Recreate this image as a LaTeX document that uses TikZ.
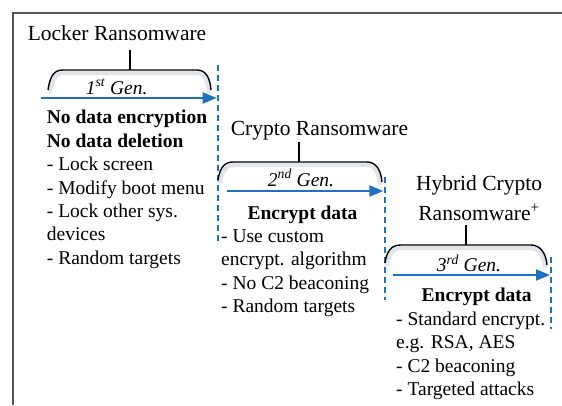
\documentclass[tikz,border=0pt]{standalone}
\usepackage{fontspec}
\setmainfont{Liberation Serif}
\usetikzlibrary{arrows.meta}
\definecolor{genblue}{RGB}{30,112,192}
\definecolor{framegray}{RGB}{85,85,85}
\definecolor{glowgray}{RGB}{205,212,222}
\begin{document}
\begin{tikzpicture}[x=1pt,y=-1pt,
  frame/.style={draw=framegray,line width=1.7pt},
  era/.style={draw=black,line width=1.4pt},
  eraglow/.style={draw=glowgray,line width=4pt,opacity=0.6,yshift=-3pt},
  timeline/.style={draw=genblue,line width=2pt,-{Triangle[length=14pt,width=11pt]}},
  divider/.style={draw=genblue,line width=2pt,dash pattern=on 6pt off 4pt},
  title/.style={font=\fontsize{21.5}{30}\selectfont,inner sep=0pt,anchor=base,align=center},
  genlabel/.style={font=\fontsize{19.5}{23.4}\selectfont\itshape,inner sep=0pt,anchor=base},
  heading/.style={font=\fontsize{19.5}{23.4}\selectfont\bfseries,inner sep=0pt,anchor=base},
  body/.style={font=\fontsize{19.5}{23.4}\selectfont,inner sep=0pt,align=left,anchor=base west},
]
\useasboundingbox (0,0) rectangle (562,405);

% outer frame (only top and left edges lie inside the page)
\draw[frame] (13,405) -- (13,13) -- (563,13);

% multi-line nodes are placed by the baseline of their last line

% ---------- 1st generation ----------
\node[title] (t1) at (117,40.7) {Locker Ransomware};
\coordinate (t1tick) at (130,50);
\coordinate (b1) at (130,70);
\draw[era] (t1tick) -- (b1);
\draw[eraglow] (50,90) .. controls (52,76) and (56,70) .. (64,70) -- (196,70)
  .. controls (205,70) and (208,78) .. (209,90);
\draw[era] (48,90) .. controls (50,76) and (54,70) .. (63,70) -- (197,70)
  .. controls (206,70) and (210,78) .. (211,90);
\node[genlabel] (g1) at (116.7,94.3) {1\textsuperscript{st} Gen.};
\coordinate (a1s) at (40.7,98);
\coordinate (a1e) at (216.7,98);
\draw[timeline] (a1s) -- (a1e);
\coordinate (d1t) at (218,65);
\coordinate (d1b) at (218,244);
\draw[divider] (d1t) -- (d1b);
\node[body,font=\fontsize{19.5}{23.4}\selectfont\bfseries] (h1) at (46.7,147)
  {No data encryption\\No data deletion};
\node[body] (l1) at (46.7,264.3)
  {- Lock screen\\- Modify boot menu\\- Lock other sys.\\devices\\- Random targets};

% ---------- 2nd generation ----------
\node[title] (t2) at (319.5,135) {Crypto Ransomware};
\coordinate (t2tick) at (299,142);
\coordinate (b2) at (299,162);
\draw[era] (t2tick) -- (b2);
\draw[eraglow] (220,180) .. controls (222,167) and (227,162) .. (234,162) -- (366,162)
  .. controls (375,162) and (379,170) .. (380,182);
\draw[era] (218,180) .. controls (220,167) and (225,162) .. (233,162) -- (367,162)
  .. controls (376,162) and (381,170) .. (382,182);
\node[genlabel] (g2) at (301,186) {2\textsuperscript{nd} Gen.};
\coordinate (a2s) at (226.7,191);
\coordinate (a2e) at (383.3,191);
\draw[timeline] (a2s) -- (a2e);
\coordinate (d2t) at (385,177);
\coordinate (d2b) at (385,300);
\draw[divider] (d2t) -- (d2b);
\node[heading] (h2) at (302.5,219.3) {Encrypt data};
\node[body] (l2) at (221,312.7)
  {- Use custom\\encrypt. algorithm\\- No C2 beaconing\\- Random targets};

% ---------- 3rd generation ----------
\node[title] (t3) at (479,220) {Hybrid Crypto\\Ransomware\textsuperscript{+}};
\coordinate (t3tick) at (466,225);
\coordinate (b3) at (466,245);
\draw[era] (t3tick) -- (b3);
\draw[eraglow] (387,263) .. controls (389,250) and (394,245) .. (402,245) -- (530,245)
  .. controls (539,245) and (544,253) .. (545,265);
\draw[era] (385,263) .. controls (387,250) and (392,245) .. (401,245) -- (531,245)
  .. controls (540,245) and (546,253) .. (547,265);
\node[genlabel] (g3) at (469,271.7) {3\textsuperscript{rd} Gen.};
\coordinate (a3s) at (393.3,275);
\coordinate (a3e) at (550,275);
\draw[timeline] (a3s) -- (a3e);
\coordinate (d3t) at (551,257);
\coordinate (d3b) at (551,329);
\draw[divider] (d3t) -- (d3b);
\node[heading] (h3) at (476.7,301.7) {Encrypt data};
\node[body] (l3) at (396,395.7)
  {- Standard encrypt.\\e.g. RSA, AES\\- C2 beaconing\\- Targeted attacks};
\end{tikzpicture}
\end{document}
